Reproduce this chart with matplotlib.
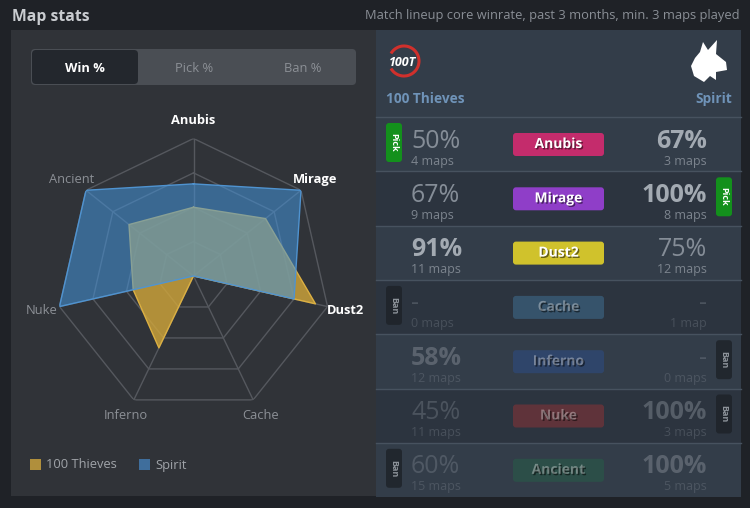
import numpy as np
import matplotlib.pyplot as plt
from matplotlib.patches import FancyBboxPatch, Rectangle, Arc, Polygon
import matplotlib.patheffects as pe

plt.rcParams['font.family'] = ['Open Sans', 'DejaVu Sans']

# data
maps = ['Anubis', 'Mirage', 'Dust2', 'Cache', 'Inferno', 'Nuke', 'Ancient']
thieves_win = [50, 67, 91, None, 58, 45, 60]
spirit_win = [67, 100, 75, None, None, 100, 100]
thieves_maps = [4, 9, 11, 0, 12, 11, 15]
spirit_maps = [3, 8, 12, 1, 0, 3, 5]
thieves_badge = ['Pick', None, None, 'Ban', None, None, 'Ban']
spirit_badge = [None, 'Pick', None, None, 'Ban', 'Ban', None]
active = [True, True, True, False, False, False, False]
map_colors = ['#c42c6c', '#8f3ec8', '#d0c22c', '#4a8fc0', '#2a56a8', '#c03232', '#1f7048']
tabs = ['Win %', 'Pick %', 'Ban %']
teams = ['100 Thieves', 'Spirit']

YELLOW = '#d2a73a'
BLUE = '#4494db'

fig = plt.figure(figsize=(7.5, 5.08), dpi=100)
fig.patch.set_facecolor('#1f2227')

bg = fig.add_axes([0, 0, 1, 1])
bg.set_xlim(0, 750)
bg.set_ylim(508, 0)
bg.axis('off')

# header
bg.text(12, 17, 'Map stats', color='#c9ccd0', fontsize=11.3, fontweight='bold', va='center')
bg.text(740, 16, 'Match lineup core winrate, past 3 months, min. 3 maps played',
        color='#8a8f96', fontsize=9.3, va='center', ha='right')

# left panel
bg.add_patch(Rectangle((11, 30), 365, 466, color='#303338', lw=0))
bg.add_patch(FancyBboxPatch((31, 49), 325, 36, boxstyle='round,pad=0,rounding_size=4',
                            fc='#4a4e54', ec='none'))
bg.add_patch(FancyBboxPatch((32, 50), 106, 34, boxstyle='round,pad=0,rounding_size=4',
                            fc='#23272d', ec='none'))
for i, t in enumerate(tabs):
    bg.text(85 + i * 109, 68, t, ha='center', va='center', fontsize=9.3,
            color='white' if i == 0 else '#8c9096', fontweight='bold' if i == 0 else 'normal')

# legend
for i, (name, c) in enumerate(zip(teams, ['#b08f3c', '#3f6e9c'])):
    x0 = 30 + i * 109
    bg.add_patch(Rectangle((x0, 459), 11, 11, color=c, lw=0))
    bg.text(x0 + 16, 465, name, va='center', fontsize=9.3, color='#a0a4a9')

# right panel
bg.add_patch(Rectangle((376, 30), 365, 466, color='#333d49', lw=0))
row_top = 117
row_h = 54.3

# logos
bg.add_patch(Arc((404, 61), 30, 30, theta1=-150, theta2=150, color='#d0302c', lw=2.2))
bg.text(403, 63, '100T', ha='center', va='center', color='white', fontsize=9,
        fontweight='bold', style='italic')
dragon = [(700, 52), (703, 42), (708, 50), (717, 40), (716, 54), (726, 62), (727, 70),
          (716, 72), (716, 80), (710, 76), (704, 82), (694, 76), (691, 66), (695, 58)]
bg.add_patch(Polygon(dragon, closed=True, fc='white', ec='none'))
bg.text(386, 99, teams[0], va='center', ha='left', color='#6f93b8', fontsize=9.8, fontweight='bold')
bg.text(732, 99, teams[1], va='center', ha='right', color='#6f93b8', fontsize=9.8, fontweight='bold')

for i, m in enumerate(maps):
    y0 = row_top + i * row_h
    bg.add_patch(Rectangle((376, y0), 365, row_h, color='#333d49' if i % 2 == 0 else '#2c343f', lw=0))
    bg.plot([376, 741], [y0, y0], color='#47525f', lw=1)
    a = 1.0 if active[i] else 0.35

    tw, sw = thieves_win[i], spirit_win[i]
    tv = -1 if tw is None else tw
    sv = -1 if sw is None else sw
    for val, n, x, ha, better in [(tw, thieves_maps[i], 411, 'left', tv > sv),
                                  (sw, spirit_maps[i], 707, 'right', sv > tv)]:
        txt = '-' if val is None else f'{val}%'
        bg.text(x, y0 + 24, txt, ha=ha, va='center', fontsize=18,
                fontweight='bold' if better else 'normal',
                color='#a3aab2' if better else '#858d97', alpha=a)
        bg.text(x, y0 + 44, f'{n} map' if n == 1 else f'{n} maps', ha=ha, va='center',
                fontsize=9, color='#7c848e', alpha=a)

    bg.add_patch(FancyBboxPatch((513, y0 + 16), 91, 23, boxstyle='round,pad=0,rounding_size=3',
                                fc=map_colors[i], ec='none', alpha=a))
    bg.text(558.5, y0 + 27, m, ha='center', va='center', color='white', fontsize=10,
            fontweight='bold', alpha=a,
            path_effects=[pe.withSimplePatchShadow(offset=(1, -1), shadow_rgbFace='black', alpha=0.5)])

    for badge, bx in [(thieves_badge[i], 386), (spirit_badge[i], 716)]:
        if badge is None:
            continue
        fc = '#13901c' if badge == 'Pick' else '#1d2228'
        bg.add_patch(FancyBboxPatch((bx, y0 + 6), 16, 39, boxstyle='round,pad=0,rounding_size=3',
                                    fc=fc, ec='none', alpha=1.0 if badge == 'Pick' else 0.8))
        bg.text(bx + 8, y0 + 25.5, badge, rotation=-90, ha='center', va='center', fontsize=6.5,
                fontweight='bold', color='white' if badge == 'Pick' else '#8e949b')

# radar chart
ax = fig.add_axes([56 / 750, 94.5 / 508, 275 / 750, 275 / 508], projection='polar')
ax.set_facecolor('none')
ax.set_theta_offset(np.pi / 2)
ax.set_theta_direction(-1)
ax.set_ylim(0, 100)
ax.grid(False)
ax.spines['polar'].set_visible(False)
ax.set_xticks([])
ax.set_yticks([])

angles = np.linspace(0, 2 * np.pi, len(maps), endpoint=False)
closed = np.append(angles, angles[0])
for r in [25, 50, 75, 100]:
    ax.plot(closed, [r] * len(closed), color='#55585e', lw=1, zorder=1)
for t in angles:
    ax.plot([t, t], [0, 100], color='#55585e', lw=1, zorder=1)

tvals = [0 if v is None else v for v in thieves_win]
svals = [0 if v is None else v for v in spirit_win]
ax.fill(closed, tvals + tvals[:1], color=YELLOW, alpha=0.8, lw=0, zorder=2)
ax.plot(closed, tvals + tvals[:1], color='#dcb042', lw=1, zorder=3)
ax.fill(closed, svals + svals[:1], color=BLUE, alpha=0.55, lw=0, zorder=4)
ax.plot(closed, svals + svals[:1], color='#4f93d0', lw=1, zorder=5)

for t, m, act in zip(angles, maps, active):
    ax.text(t, 113, m, ha='center', va='center', fontsize=9.3,
            color='white' if act else '#8c9096', fontweight='bold' if act else 'normal')

fig.savefig('out.png', dpi=100, facecolor=fig.get_facecolor())
